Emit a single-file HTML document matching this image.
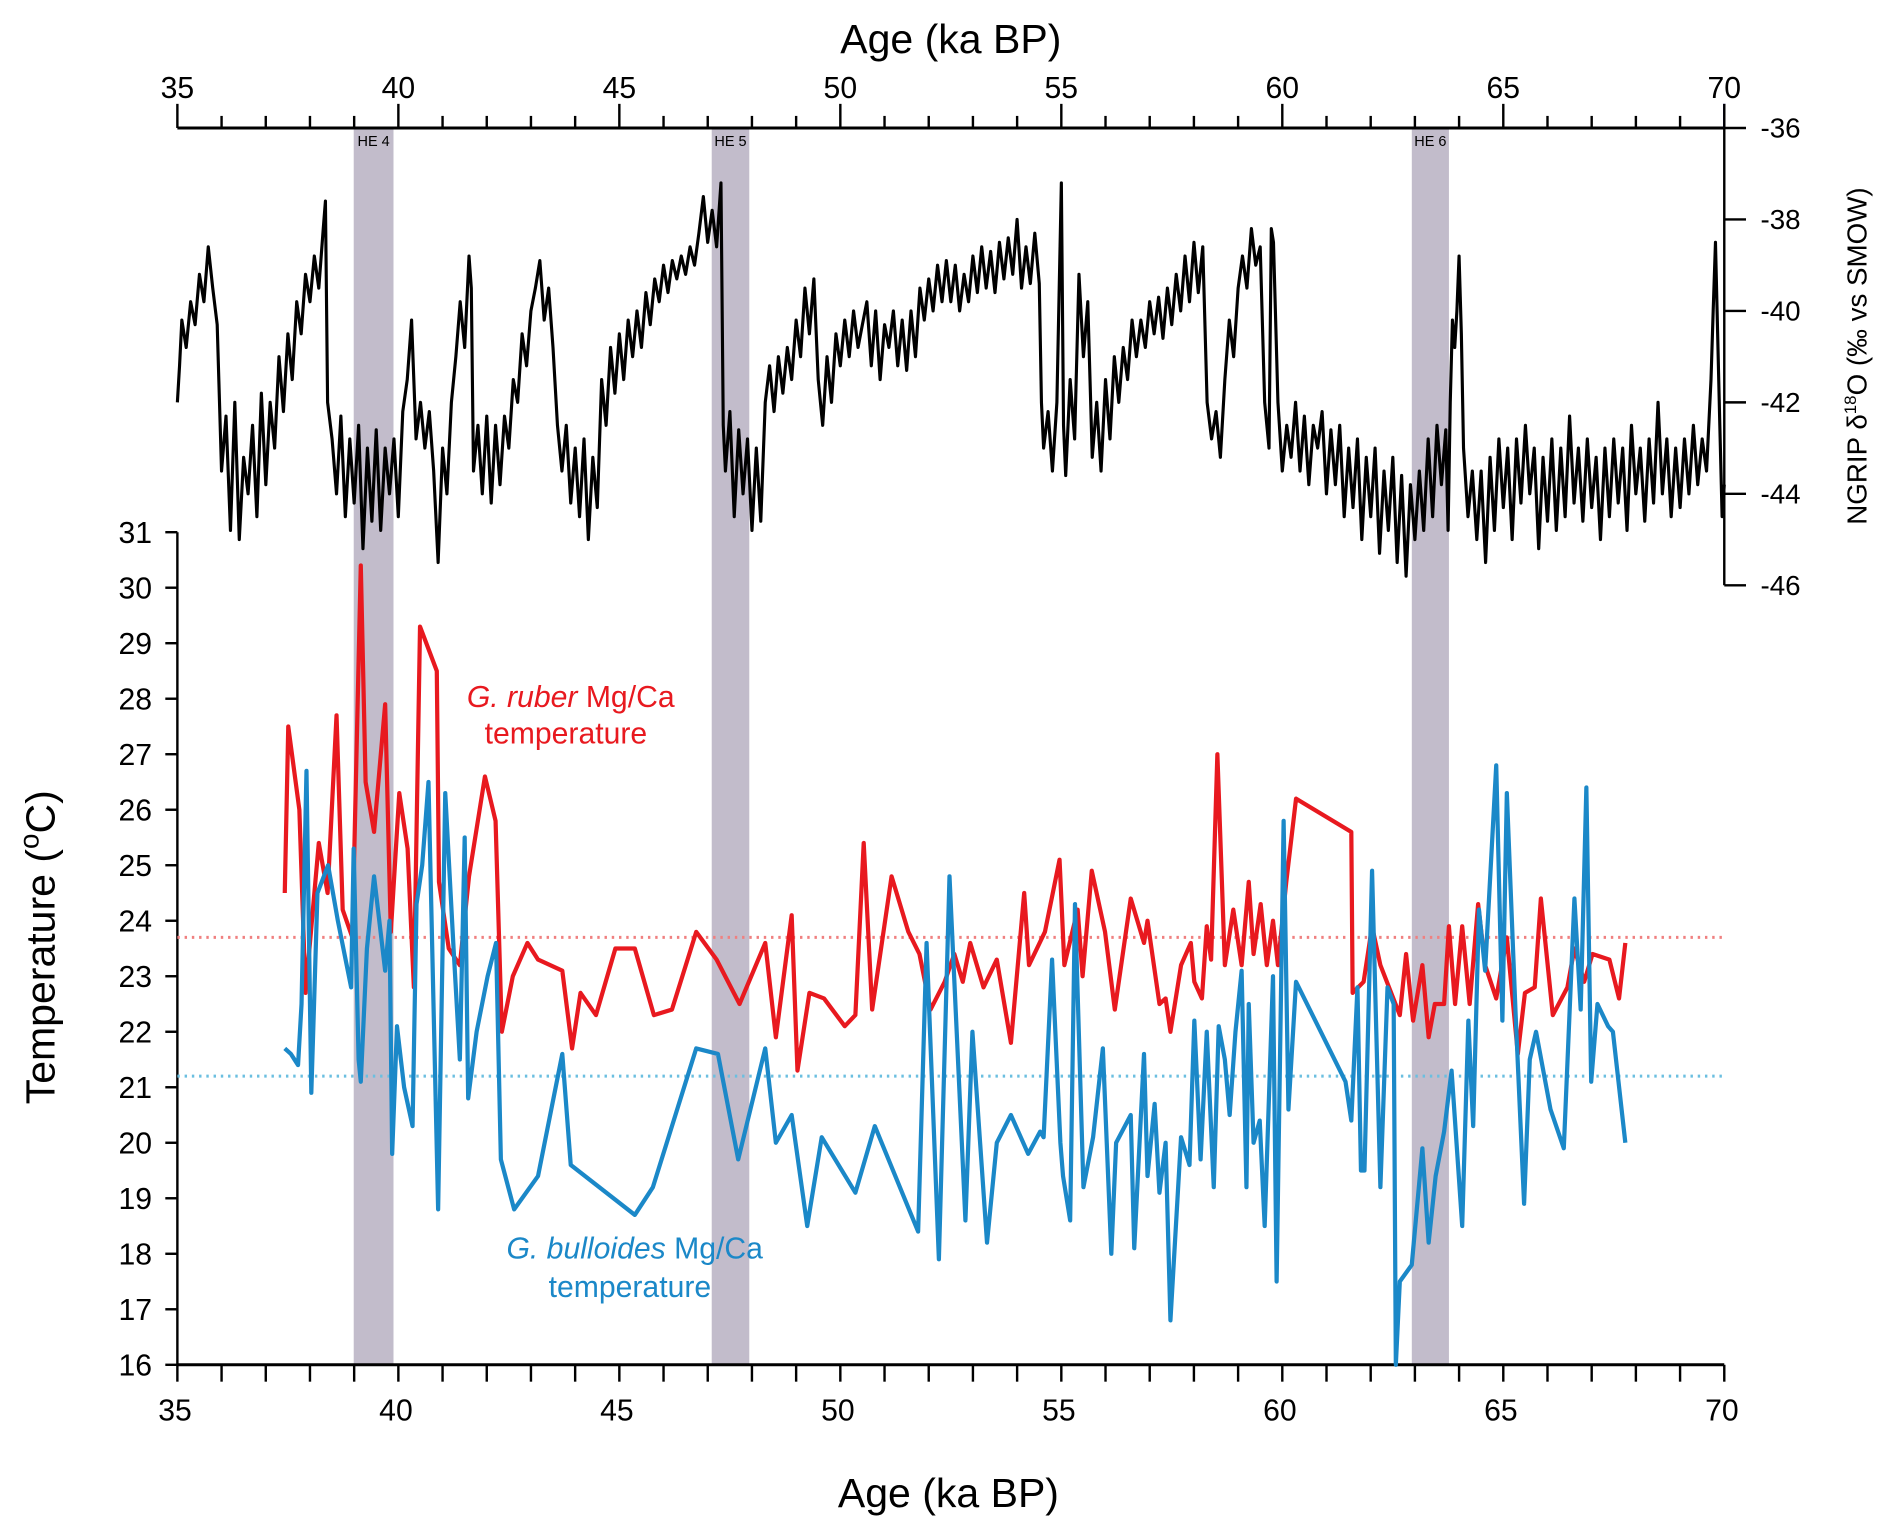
<!DOCTYPE html>
<html><head><meta charset="utf-8">
<style>
html,body{margin:0;padding:0;background:#fff;}
svg{display:block;font-family:"Liberation Sans",sans-serif;}
</style></head>
<body>
<svg id="chart" width="1892" height="1535" viewBox="0 0 1568 1272" xmlns="http://www.w3.org/2000/svg">
  <g id="bands"></g>
  <g id="axes"></g>
  <g id="series"></g>
  <text x="788" y="44" font-size="34" text-anchor="middle">Age (ka BP)</text>
  <text x="786" y="1249" font-size="34" text-anchor="middle">Age (ka BP)</text>
  <text transform="translate(45,785) rotate(-90)" font-size="34" text-anchor="middle">Temperature (<tspan font-size="23" dy="-13">o</tspan><tspan dy="13">C)</tspan></text>
  <text transform="translate(1547,295) rotate(-90)" font-size="23" text-anchor="middle">NGRIP δ<tspan font-size="14" dy="-9">18</tspan><tspan dy="9">O (‰ vs SMOW)</tspan></text>
  <g fill="#e8191f" font-size="25" text-anchor="middle">
    <text x="473" y="586"><tspan font-style="italic">G. ruber</tspan> Mg/Ca</text>
    <text x="469" y="616">temperature</text>
  </g>
  <g fill="#1b88c8" font-size="25" text-anchor="middle">
    <text x="526" y="1043"><tspan font-style="italic">G. bulloides</tspan> Mg/Ca</text>
    <text x="522" y="1075">temperature</text>
  </g>
</svg>
<script>
const bandRanges = [[38.99,39.89,"HE 4"],[47.09,47.94,"HE 5"],[62.93,63.77,"HE 6"]];
const ageTicks = [35,40,45,50,55,60,65,70];
const tempTicks = [16,17,18,19,20,21,22,23,24,25,26,27,28,29,30,31];
const ngripTicks = [-36,-38,-40,-42,-44,-46];
const ruberMean = 23.7;
const bulloidesMean = 21.2;
const ruberData = [[37.43,24.5],[37.51,27.5],[37.76,26],[37.9,22.7],[38.2,25.4],[38.4,24.5],[38.6,27.7],[38.74,24.2],[38.96,23.7],[39.15,30.4],[39.26,26.5],[39.45,25.6],[39.7,27.9],[39.83,23.8],[40.02,26.3],[40.21,25.3],[40.35,22.8],[40.49,29.3],[40.87,28.5],[40.92,24.7],[41.14,23.5],[41.39,23.2],[41.6,24.8],[41.96,26.6],[42.2,25.8],[42.34,22.0],[42.59,23.0],[42.92,23.6],[43.16,23.3],[43.71,23.1],[43.93,21.7],[44.12,22.7],[44.47,22.3],[44.91,23.5],[45.35,23.5],[45.78,22.3],[46.19,22.4],[46.74,23.8],[47.2,23.3],[47.72,22.5],[48.3,23.6],[48.54,21.9],[48.9,24.1],[49.03,21.3],[49.3,22.7],[49.63,22.6],[50.1,22.1],[50.34,22.3],[50.53,25.4],[50.72,22.4],[51.16,24.8],[51.54,23.8],[51.79,23.4],[52.04,22.4],[52.36,22.9],[52.58,23.4],[52.77,22.9],[52.94,23.6],[53.24,22.8],[53.54,23.3],[53.86,21.8],[54.16,24.5],[54.27,23.2],[54.63,23.8],[54.96,25.1],[55.07,23.2],[55.37,24.2],[55.48,23.0],[55.69,24.9],[55.99,23.8],[56.21,22.4],[56.57,24.4],[56.87,23.6],[56.95,24.0],[57.22,22.5],[57.36,22.6],[57.47,22.0],[57.71,23.2],[57.93,23.6],[58.01,22.9],[58.18,22.6],[58.29,23.9],[58.39,23.3],[58.53,27.0],[58.7,23.2],[58.89,24.2],[59.08,23.2],[59.24,24.7],[59.35,23.4],[59.51,24.3],[59.65,23.2],[59.79,24.0],[59.9,23.2],[60.09,24.7],[60.31,26.2],[61.56,25.6],[61.59,22.7],[61.84,22.9],[62.03,23.9],[62.22,23.2],[62.66,22.3],[62.8,23.4],[62.96,22.2],[63.17,23.2],[63.31,21.9],[63.45,22.5],[63.66,22.5],[63.77,23.9],[63.91,22.5],[64.07,23.9],[64.24,22.5],[64.43,24.3],[64.59,23.2],[64.84,22.6],[65.08,23.7],[65.33,21.6],[65.49,22.7],[65.71,22.8],[65.85,24.4],[66.12,22.3],[66.45,22.8],[66.61,23.5],[66.83,22.9],[67.02,23.4],[67.4,23.3],[67.62,22.6],[67.76,23.6]];
const bulloidesData = [[37.43,21.7],[37.57,21.6],[37.73,21.4],[37.81,22.5],[37.92,26.7],[38.03,20.9],[38.17,24.5],[38.41,25.0],[38.63,24.0],[38.93,22.8],[38.99,25.3],[39.1,21.5],[39.15,21.1],[39.29,23.5],[39.45,24.8],[39.7,23.1],[39.8,24.0],[39.86,19.8],[39.97,22.1],[40.13,21.0],[40.32,20.3],[40.41,24.3],[40.54,25.0],[40.68,26.5],[40.9,18.8],[41.06,26.3],[41.25,23.5],[41.39,21.5],[41.5,25.5],[41.58,20.8],[41.77,22.0],[42.02,23.0],[42.21,23.6],[42.32,19.7],[42.62,18.8],[43.16,19.4],[43.71,21.6],[43.9,19.6],[45.35,18.7],[45.76,19.2],[46.74,21.7],[47.23,21.6],[47.69,19.7],[48.3,21.7],[48.54,20.0],[48.9,20.5],[49.25,18.5],[49.58,20.1],[50.34,19.1],[50.78,20.3],[51.76,18.4],[51.95,23.6],[52.23,17.9],[52.47,24.8],[52.83,18.6],[52.99,22.0],[53.32,18.2],[53.54,20.0],[53.86,20.5],[54.25,19.8],[54.52,20.2],[54.6,20.1],[54.79,23.3],[54.98,20.0],[55.04,19.4],[55.2,18.6],[55.31,24.3],[55.5,19.2],[55.72,20.1],[55.94,21.7],[56.13,18.0],[56.24,20.0],[56.57,20.5],[56.65,18.1],[56.87,21.6],[56.95,19.4],[57.11,20.7],[57.22,19.1],[57.36,20.0],[57.47,16.8],[57.71,20.1],[57.9,19.6],[58.01,22.2],[58.15,19.7],[58.29,22.0],[58.45,19.2],[58.56,22.1],[58.7,21.5],[58.81,20.5],[58.94,22.0],[59.08,23.1],[59.19,19.2],[59.24,22.5],[59.35,20.0],[59.49,20.4],[59.6,18.5],[59.79,23.0],[59.87,17.5],[60.03,25.8],[60.14,20.6],[60.31,22.9],[61.43,21.1],[61.56,20.4],[61.7,22.8],[61.78,19.5],[61.86,19.5],[62.03,24.9],[62.22,19.2],[62.38,22.8],[62.52,22.5],[62.57,16.0],[62.66,17.5],[62.93,17.8],[63.17,19.9],[63.31,18.2],[63.47,19.4],[63.66,20.2],[63.83,21.3],[64.07,18.5],[64.21,22.2],[64.32,20.3],[64.45,24.2],[64.59,23.1],[64.84,26.8],[64.98,22.2],[65.08,26.3],[65.28,22.3],[65.47,18.9],[65.6,21.5],[65.74,22.0],[66.07,20.6],[66.37,19.9],[66.61,24.4],[66.75,22.4],[66.88,26.4],[66.99,21.1],[67.13,22.5],[67.37,22.1],[67.48,22.0],[67.76,20.0]];
const ngripData = [[35.0,-42],[35.05,-41.2],[35.1,-40.2],[35.2,-40.8],[35.3,-39.8],[35.4,-40.3],[35.5,-39.2],[35.6,-39.8],[35.7,-38.6],[35.8,-39.5],[35.9,-40.3],[36.0,-43.5],[36.1,-42.3],[36.2,-44.8],[36.3,-42.0],[36.4,-45.0],[36.5,-43.2],[36.6,-44.0],[36.7,-42.5],[36.8,-44.5],[36.9,-41.8],[37.0,-43.8],[37.1,-42.0],[37.2,-43.0],[37.3,-41.0],[37.4,-42.2],[37.5,-40.5],[37.6,-41.5],[37.7,-39.8],[37.8,-40.5],[37.9,-39.2],[38.0,-39.8],[38.1,-38.8],[38.2,-39.5],[38.3,-38.2],[38.35,-37.6],[38.4,-42.0],[38.5,-42.8],[38.6,-44.0],[38.7,-42.3],[38.8,-44.5],[38.9,-42.8],[39.0,-44.2],[39.1,-42.5],[39.2,-45.2],[39.3,-43.0],[39.4,-44.6],[39.5,-42.6],[39.6,-44.8],[39.7,-43.0],[39.8,-44.0],[39.9,-42.8],[40.0,-44.5],[40.1,-42.2],[40.2,-41.5],[40.3,-40.2],[40.4,-42.8],[40.5,-42.0],[40.6,-43.0],[40.7,-42.2],[40.8,-43.5],[40.9,-45.5],[41.0,-43.0],[41.1,-44.0],[41.2,-42.0],[41.3,-41.0],[41.4,-39.8],[41.5,-40.8],[41.6,-38.8],[41.65,-39.5],[41.7,-43.5],[41.8,-42.5],[41.9,-44.0],[42.0,-42.3],[42.1,-44.2],[42.2,-42.5],[42.3,-43.8],[42.4,-42.3],[42.5,-43.0],[42.6,-41.5],[42.7,-42.0],[42.8,-40.5],[42.9,-41.2],[43.0,-40.0],[43.1,-39.5],[43.2,-38.9],[43.3,-40.2],[43.4,-39.5],[43.5,-40.8],[43.6,-42.5],[43.7,-43.5],[43.8,-42.5],[43.9,-44.2],[44.0,-43.0],[44.1,-44.5],[44.2,-42.8],[44.3,-45.0],[44.4,-43.2],[44.5,-44.3],[44.6,-41.5],[44.7,-42.5],[44.8,-40.8],[44.9,-41.8],[45.0,-40.5],[45.1,-41.5],[45.2,-40.2],[45.3,-41.0],[45.4,-40.0],[45.5,-40.8],[45.6,-39.6],[45.7,-40.3],[45.8,-39.3],[45.9,-39.8],[46.0,-39.0],[46.1,-39.6],[46.2,-38.9],[46.3,-39.3],[46.4,-38.8],[46.5,-39.2],[46.6,-38.6],[46.7,-39.0],[46.8,-38.3],[46.9,-37.5],[47.0,-38.5],[47.1,-37.8],[47.2,-38.6],[47.3,-37.2],[47.35,-42.5],[47.4,-43.5],[47.5,-42.2],[47.6,-44.5],[47.7,-42.6],[47.8,-44.0],[47.9,-42.8],[48.0,-44.8],[48.1,-43.0],[48.2,-44.6],[48.3,-42.0],[48.4,-41.2],[48.5,-42.2],[48.6,-41.0],[48.7,-41.8],[48.8,-40.8],[48.9,-41.5],[49.0,-40.2],[49.1,-41.0],[49.2,-39.5],[49.3,-40.5],[49.4,-39.3],[49.5,-41.5],[49.6,-42.5],[49.7,-41.0],[49.8,-42.0],[49.9,-40.5],[50.0,-41.2],[50.1,-40.2],[50.2,-41.0],[50.3,-40.0],[50.4,-40.8],[50.5,-40.3],[50.6,-39.8],[50.7,-41.2],[50.8,-40.0],[50.9,-41.5],[51.0,-40.3],[51.1,-40.8],[51.2,-40.0],[51.3,-41.2],[51.4,-40.2],[51.5,-41.3],[51.6,-40.0],[51.7,-41.0],[51.8,-39.5],[51.9,-40.2],[52.0,-39.3],[52.1,-40.0],[52.2,-39.0],[52.3,-39.8],[52.4,-38.9],[52.5,-39.8],[52.6,-39.0],[52.7,-40.0],[52.8,-39.2],[52.9,-39.8],[53.0,-38.8],[53.1,-39.6],[53.2,-38.6],[53.3,-39.5],[53.4,-38.7],[53.5,-39.6],[53.6,-38.5],[53.7,-39.3],[53.8,-38.4],[53.9,-39.2],[54.0,-38.0],[54.1,-39.5],[54.2,-38.6],[54.3,-39.4],[54.4,-38.3],[54.5,-39.4],[54.55,-42.0],[54.6,-43.0],[54.7,-42.2],[54.8,-43.5],[54.9,-42.0],[55.0,-37.2],[55.05,-42.5],[55.1,-43.6],[55.2,-41.5],[55.3,-42.8],[55.4,-39.2],[55.5,-41.0],[55.6,-39.8],[55.7,-43.2],[55.8,-42.0],[55.9,-43.5],[56.0,-41.5],[56.1,-42.8],[56.2,-41.0],[56.3,-42.0],[56.4,-40.8],[56.5,-41.5],[56.6,-40.2],[56.7,-41.0],[56.8,-40.2],[56.9,-40.8],[57.0,-39.8],[57.1,-40.5],[57.2,-39.7],[57.3,-40.6],[57.4,-39.5],[57.5,-40.3],[57.6,-39.2],[57.7,-40.0],[57.8,-38.8],[57.9,-39.8],[58.0,-38.5],[58.1,-39.6],[58.2,-38.6],[58.3,-42.0],[58.4,-42.8],[58.5,-42.2],[58.6,-43.2],[58.7,-41.5],[58.8,-40.2],[58.9,-41.0],[59.0,-39.5],[59.1,-38.8],[59.2,-39.5],[59.3,-38.2],[59.4,-39.0],[59.5,-38.6],[59.6,-42.0],[59.7,-43.0],[59.75,-38.2],[59.8,-38.5],[59.9,-42.0],[60.0,-43.5],[60.1,-42.5],[60.2,-43.2],[60.3,-42.0],[60.4,-43.5],[60.5,-42.3],[60.6,-43.8],[60.7,-42.5],[60.8,-43.0],[60.9,-42.2],[61.0,-44.0],[61.1,-42.6],[61.2,-43.8],[61.3,-42.5],[61.4,-44.5],[61.5,-43.0],[61.6,-44.3],[61.7,-42.8],[61.8,-45.0],[61.9,-43.2],[62.0,-44.5],[62.1,-43.0],[62.2,-45.3],[62.3,-43.5],[62.4,-44.8],[62.5,-43.2],[62.6,-45.5],[62.7,-43.6],[62.8,-45.8],[62.9,-43.8],[63.0,-45.0],[63.1,-43.5],[63.2,-44.8],[63.3,-42.8],[63.4,-44.5],[63.5,-42.5],[63.6,-43.8],[63.7,-42.6],[63.75,-44.8],[63.8,-42.0],[63.85,-40.2],[63.9,-40.8],[63.95,-40.0],[64.0,-38.8],[64.05,-40.5],[64.1,-43.0],[64.2,-44.5],[64.3,-43.5],[64.4,-45.0],[64.5,-43.5],[64.6,-45.5],[64.7,-43.2],[64.8,-44.8],[64.9,-42.8],[65.0,-44.3],[65.1,-43.0],[65.2,-45.0],[65.3,-42.8],[65.4,-44.2],[65.5,-42.5],[65.6,-44.0],[65.7,-43.0],[65.8,-45.2],[65.9,-43.2],[66.0,-44.6],[66.1,-42.8],[66.2,-44.8],[66.3,-43.0],[66.4,-44.5],[66.5,-42.3],[66.6,-44.2],[66.7,-43.0],[66.8,-44.6],[66.9,-42.8],[67.0,-44.3],[67.1,-43.2],[67.2,-45.0],[67.3,-43.0],[67.4,-44.5],[67.5,-42.8],[67.6,-44.2],[67.7,-43.0],[67.8,-44.8],[67.9,-42.5],[68.0,-44.0],[68.1,-43.0],[68.2,-44.6],[68.3,-42.8],[68.4,-44.2],[68.5,-42.0],[68.6,-44.0],[68.7,-42.8],[68.8,-44.5],[68.9,-43.0],[69.0,-44.3],[69.1,-42.8],[69.2,-44.0],[69.3,-42.5],[69.4,-43.8],[69.5,-42.8],[69.6,-43.5],[69.7,-41.5],[69.75,-40.0],[69.8,-38.5],[69.85,-40.5],[69.9,-42.5],[69.95,-44.5],[70.0,-43.8]];

const NS = "http://www.w3.org/2000/svg";
const X0 = 147, X1 = 1429;
const xAge = a => X0 + (a - 35) / 35 * (X1 - X0);
const yTemp = t => 1131 - (t - 16) / 15 * 690;
const yNg = v => 106 + (-36 - v) / 10 * 379;
function mk(tag, attrs, parent) {
  const e = document.createElementNS(NS, tag);
  for (const k in attrs) e.setAttribute(k, attrs[k]);
  parent.appendChild(e);
  return e;
}
const bandsG = document.getElementById('bands');
const axesG = document.getElementById('axes');
const seriesG = document.getElementById('series');

bandRanges.forEach(b => {
  const r = mk('rect', {x: xAge(b[0]), y: 106, width: xAge(b[1]) - xAge(b[0]), height: 1025, fill: '#c2bccb'}, bandsG);
  
  
  const t = mk('text', {x: (xAge(b[0]) + xAge(b[1])) / 2, y: 121, 'font-size': 12, 'text-anchor': 'middle'}, bandsG);
  t.textContent = b[2];
  
  
});

mk('line', {x1: X0, y1: 106, x2: X1, y2: 106, stroke: '#000', 'stroke-width': 2.5}, axesG);
mk('line', {x1: X0, y1: 1131, x2: X1, y2: 1131, stroke: '#000', 'stroke-width': 2.5}, axesG);
mk('line', {x1: X0, y1: 441, x2: X0, y2: 1131, stroke: '#000', 'stroke-width': 2}, axesG);
mk('line', {x1: X1, y1: 106, x2: X1, y2: 485, stroke: '#000', 'stroke-width': 2}, axesG);
mk('line', {x1: X1, y1: 86, x2: X1, y2: 106, stroke: '#2222cc', 'stroke-width': 2}, axesG);

for (let a = 35; a <= 70; a++) {
  const major = a % 5 === 0;
  mk('line', {x1: xAge(a), y1: 106, x2: xAge(a), y2: major ? 86 : 96, stroke: '#000', 'stroke-width': 2}, axesG);
  mk('line', {x1: xAge(a), y1: 1131, x2: xAge(a), y2: 1145, stroke: '#000', 'stroke-width': 2}, axesG);
}
ageTicks.forEach(a => {
  const t1 = mk('text', {x: xAge(a), y: 81, 'font-size': 25, 'text-anchor': 'middle'}, axesG);
  t1.textContent = a;
  
  
  const t2 = mk('text', {x: xAge(a) - 2, y: 1177, 'font-size': 25, 'text-anchor': 'middle'}, axesG);
  t2.textContent = a;
  
  
});
tempTicks.forEach(t => {
  mk('line', {x1: X0 - 10, y1: yTemp(t), x2: X0, y2: yTemp(t), stroke: '#000', 'stroke-width': 2}, axesG);
  const l = mk('text', {x: 126, y: yTemp(t) + 9, 'font-size': 25, 'text-anchor': 'end'}, axesG);
  l.textContent = t;
  
  
});
ngripTicks.forEach(v => {
  mk('line', {x1: X1, y1: yNg(v), x2: X1 + 18, y2: yNg(v), stroke: '#000', 'stroke-width': 2}, axesG);
  const l = mk('text', {x: 1459, y: yNg(v) + 8, 'font-size': 23}, axesG);
  l.textContent = v;
  
  
});

function poly(data, fx, fy, color, w, name) {
  const p = mk('polyline', {points: data.map(d => fx(d[0]).toFixed(1) + ',' + fy(d[1]).toFixed(1)).join(' '), fill: 'none', stroke: color, 'stroke-width': w, 'stroke-linejoin': 'round'}, seriesG);
  
  
}
const m1 = mk('line', {x1: X0, y1: yTemp(ruberMean), x2: X1, y2: yTemp(ruberMean), stroke: '#f08080', 'stroke-width': 2.5, 'stroke-dasharray': '2,4'}, seriesG);


const m2 = mk('line', {x1: X0, y1: yTemp(bulloidesMean), x2: X1, y2: yTemp(bulloidesMean), stroke: '#6bbfe0', 'stroke-width': 2.5, 'stroke-dasharray': '2,4'}, seriesG);


poly(ngripData, xAge, yNg, '#000', 2.6, 'ngrip-d18o-line');
poly(ruberData, xAge, yTemp, '#e8191f', 3.5, 'ruber-temperature-line');
poly(bulloidesData, xAge, yTemp, '#1b88c8', 3.5, 'bulloides-temperature-line');
</script>
</body></html>
